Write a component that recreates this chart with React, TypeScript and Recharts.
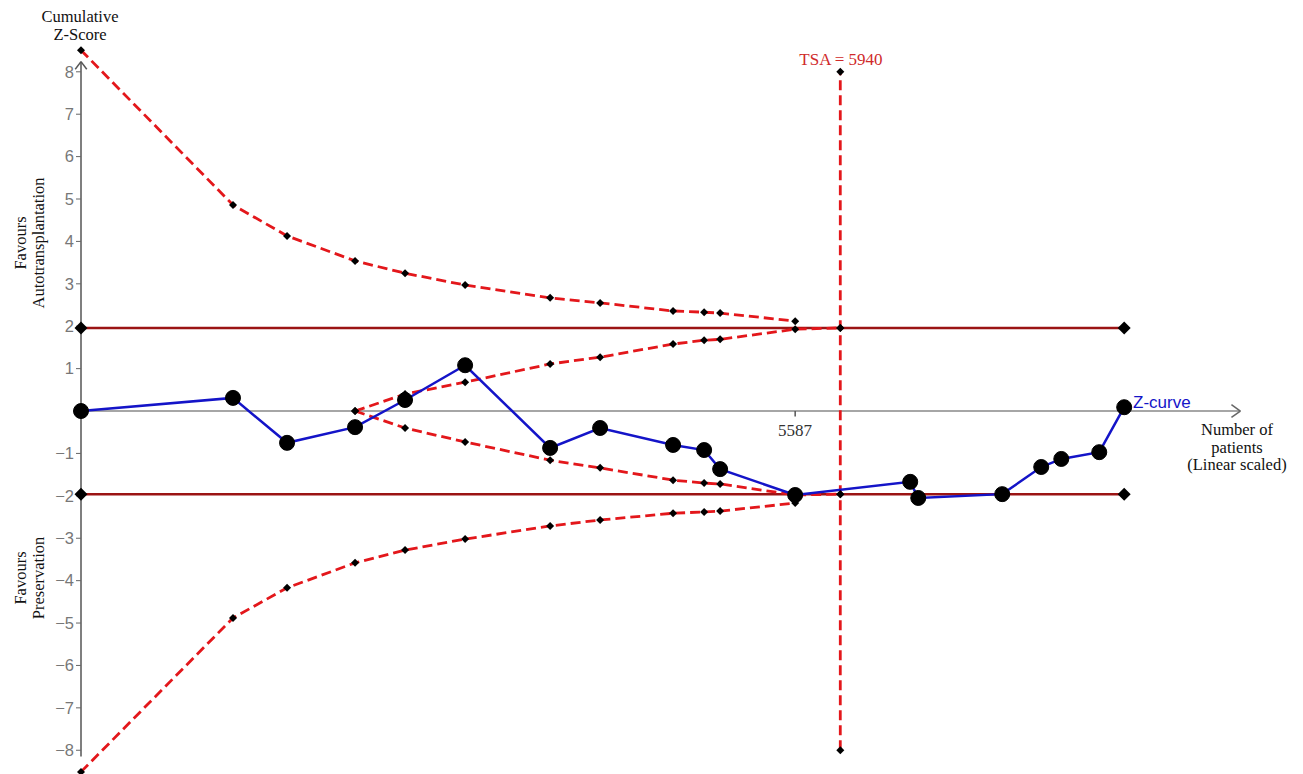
import React from 'react';
import { ComposedChart, Line, XAxis, YAxis, ReferenceLine } from 'recharts';

// Number of patients (x) at each cumulative look
const zX = [0, 1189, 1612, 2144, 2535, 3005, 3670, 4061, 4632, 4875, 5000, 5587, 6487, 6550, 7207, 7512, 7669, 7966, 8161];
const zScore = [0, 0.31, -0.75, -0.38, 0.26, 1.08, -0.87, -0.4, -0.8, -0.92, -1.37, -1.98, -1.67, -2.05, -1.96, -1.32, -1.13, -0.97, 0.09];

// Trial sequential monitoring boundaries
const boundaryX = [0, 1189, 1612, 2144, 2535, 3005, 3670, 4061, 4632, 4875, 5000, 5587];
const upperOuter = [8.51, 4.86, 4.13, 3.54, 3.25, 2.97, 2.67, 2.55, 2.36, 2.33, 2.31, 2.12];
const lowerOuter = [-8.51, -4.88, -4.17, -3.58, -3.28, -3.02, -2.71, -2.57, -2.41, -2.38, -2.36, -2.17];

// Futility (inner wedge) boundaries
const innerX = [2144, 2535, 3005, 3670, 4061, 4632, 4875, 5000, 5587, 5940];
const upperInner = [0, 0.4, 0.68, 1.11, 1.27, 1.58, 1.67, 1.69, 1.93, 1.96];
const lowerInner = [0, -0.4, -0.73, -1.16, -1.34, -1.63, -1.7, -1.72, -1.98, -1.96];

// Conventional boundaries and required information size
const convX = [0, 8161];
const convZ = 1.96;
const tsaSize = 5940;
const tsaZ = [-8, -1.96, 1.96, 8];

const yTicks = [-8, -7, -6, -5, -4, -3, -2, -1, 1, 2, 3, 4, 5, 6, 7, 8];
const X_MAX = 9200;

const zip = (xs: number[], ys: number[]) => xs.map((x, i) => ({ x, y: ys[i] }));

const zData = zip(zX, zScore);
const upperOuterData = zip(boundaryX, upperOuter);
const lowerOuterData = zip(boundaryX, lowerOuter);
const upperInnerData = zip(innerX, upperInner);
const lowerInnerData = zip(innerX, lowerInner);
const upperConvData = convX.map(x => ({ x, y: convZ }));
const lowerConvData = convX.map(x => ({ x, y: -convZ }));
const tsaData = tsaZ.map(y => ({ x: tsaSize, y }));

const RED = '#e3171b';
const DARK_RED = '#9b1414';
const BLUE = '#1414c8';
const SERIF = '"Liberation Serif", "Times New Roman", serif';
const SANS = '"Liberation Sans", Arial, sans-serif';

const diamond = (size: number) => (props: any) => {
  const { cx, cy, index } = props;
  if (cx == null || cy == null) return <g key={index} />;
  return (
    <path
      key={index}
      d={`M${cx},${cy - size}L${cx + size},${cy}L${cx},${cy + size}L${cx - size},${cy}Z`}
      fill="#000"
    />
  );
};

const smallDiamond = diamond(4);
const bigDiamond = diamond(6.5);

const textStyle: React.CSSProperties = {
  position: 'absolute',
  fontFamily: SERIF,
  fontSize: 16.5,
  color: '#111',
  lineHeight: '17.5px',
  textAlign: 'center',
  whiteSpace: 'nowrap',
};

export default function App() {
  return (
    <div style={{ position: 'absolute', left: 0, top: 0, width: 1303, height: 774, background: '#fff', overflow: 'hidden' }}>
      <ComposedChart width={1303} height={774} margin={{ top: 40, right: 46, bottom: 0, left: 21 }}>
        <XAxis type="number" dataKey="x" domain={[0, X_MAX]} hide />
        <YAxis
          type="number"
          domain={[-8.56, 8.75]}
          ticks={yTicks}
          width={60}
          axisLine={false}
          tickSize={5}
          tickLine={{ stroke: '#666' }}
          tick={{ fill: '#777', fontSize: 16.5, fontFamily: SANS }}
          tickFormatter={(v: number) => (v < 0 ? `\u2212${Math.abs(v)}` : `${v}`)}
        />

        {/* y axis with arrow */}
        <ReferenceLine ifOverflow="visible" segment={[{ x: 0, y: -8.15 }, { x: 0, y: 8.24 }]} stroke="#555" strokeWidth={1.5} />
        <ReferenceLine ifOverflow="visible" segment={[{ x: -45, y: 8.06 }, { x: 0, y: 8.24 }]} stroke="#555" strokeWidth={1.5} />
        <ReferenceLine ifOverflow="visible" segment={[{ x: 0, y: 8.24 }, { x: 45, y: 8.06 }]} stroke="#555" strokeWidth={1.5} />

        {/* x axis with arrow and tick */}
        <ReferenceLine ifOverflow="visible" segment={[{ x: 0, y: 0 }, { x: 9070, y: 0 }]} stroke="#888" strokeWidth={1.5} />
        <ReferenceLine ifOverflow="visible" segment={[{ x: 9000, y: 0.15 }, { x: 9070, y: 0 }]} stroke="#666" strokeWidth={1.5} />
        <ReferenceLine ifOverflow="visible" segment={[{ x: 9070, y: 0 }, { x: 9000, y: -0.15 }]} stroke="#666" strokeWidth={1.5} />
        <ReferenceLine ifOverflow="visible" segment={[{ x: 5587, y: 0 }, { x: 5587, y: -0.13 }]} stroke="#555" strokeWidth={1.5} />

        <Line data={upperConvData} dataKey="y" stroke={DARK_RED} strokeWidth={2.5} dot={bigDiamond} activeDot={false} isAnimationActive={false} />
        <Line data={lowerConvData} dataKey="y" stroke={DARK_RED} strokeWidth={2.5} dot={bigDiamond} activeDot={false} isAnimationActive={false} />

        <Line data={upperOuterData} dataKey="y" stroke={RED} strokeWidth={2.8} strokeDasharray="10 5" dot={smallDiamond} activeDot={false} isAnimationActive={false} />
        <Line data={lowerOuterData} dataKey="y" stroke={RED} strokeWidth={2.8} strokeDasharray="10 5" dot={smallDiamond} activeDot={false} isAnimationActive={false} />
        <Line data={upperInnerData} dataKey="y" stroke={RED} strokeWidth={2.8} strokeDasharray="10 5" dot={smallDiamond} activeDot={false} isAnimationActive={false} />
        <Line data={lowerInnerData} dataKey="y" stroke={RED} strokeWidth={2.8} strokeDasharray="10 5" dot={smallDiamond} activeDot={false} isAnimationActive={false} />
        <Line data={tsaData} dataKey="y" stroke={RED} strokeWidth={2.8} strokeDasharray="10 5" dot={smallDiamond} activeDot={false} isAnimationActive={false} />

        <Line
          data={zData}
          dataKey="y"
          stroke={BLUE}
          strokeWidth={2.5}
          dot={{ r: 7.5, fill: '#000', stroke: '#000', strokeWidth: 1 }}
          activeDot={false}
          isAnimationActive={false}
        />
      </ComposedChart>

      <div style={{ ...textStyle, left: 25, top: 8, width: 110 }}>Cumulative<br />Z-Score</div>
      <div style={{ ...textStyle, left: 29, top: 243, transform: 'translate(-50%, -50%) rotate(-90deg)' }}>Favours<br />Autotransplantation</div>
      <div style={{ ...textStyle, left: 29, top: 578, transform: 'translate(-50%, -50%) rotate(-90deg)' }}>Favours<br />Preservation</div>
      <div style={{ ...textStyle, left: 781, top: 51, width: 120, color: '#d02a2a', fontSize: 17 }}>TSA = 5940</div>
      <div style={{ ...textStyle, left: 755, top: 422, width: 80, color: '#333', fontSize: 17 }}>5587</div>
      <div style={{ ...textStyle, left: 1133, top: 394, textAlign: 'left', color: BLUE, fontFamily: SANS, fontSize: 17 }}>Z-curve</div>
      <div style={{ ...textStyle, left: 1172, top: 421, width: 130 }}>Number of<br />patients<br />(Linear scaled)</div>
    </div>
  );
}
